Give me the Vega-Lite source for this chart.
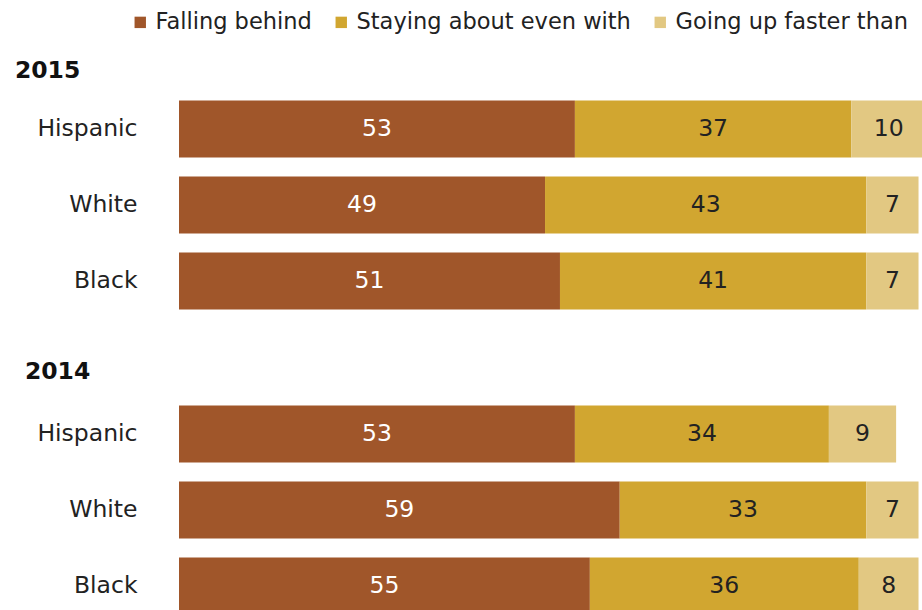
{
  "$schema": "https://vega.github.io/schema/vega-lite/v6.json",
  "background": "white",
  "padding": {"left": 14, "top": 11, "right": 0, "bottom": 0},
  "config": {
    "view": {"stroke": null},
    "font": "DejaVu Sans",
    "title": {"font": "DejaVu Sans", "fontWeight": "bold", "fontSize": 23.5, "color": "#111", "anchor": "start", "frame": "bounds"}
  },
  "data": {
    "values": [
      {"year": 2015, "race": "Hispanic", "response": "Falling behind", "order": 1, "value": 53},
      {"year": 2015, "race": "Hispanic", "response": "Staying about even with", "order": 2, "value": 37},
      {"year": 2015, "race": "Hispanic", "response": "Going up faster than", "order": 3, "value": 10},
      {"year": 2015, "race": "White", "response": "Falling behind", "order": 1, "value": 49},
      {"year": 2015, "race": "White", "response": "Staying about even with", "order": 2, "value": 43},
      {"year": 2015, "race": "White", "response": "Going up faster than", "order": 3, "value": 7},
      {"year": 2015, "race": "Black", "response": "Falling behind", "order": 1, "value": 51},
      {"year": 2015, "race": "Black", "response": "Staying about even with", "order": 2, "value": 41},
      {"year": 2015, "race": "Black", "response": "Going up faster than", "order": 3, "value": 7},
      {"year": 2014, "race": "Hispanic", "response": "Falling behind", "order": 1, "value": 53},
      {"year": 2014, "race": "Hispanic", "response": "Staying about even with", "order": 2, "value": 34},
      {"year": 2014, "race": "Hispanic", "response": "Going up faster than", "order": 3, "value": 9},
      {"year": 2014, "race": "White", "response": "Falling behind", "order": 1, "value": 59},
      {"year": 2014, "race": "White", "response": "Staying about even with", "order": 2, "value": 33},
      {"year": 2014, "race": "White", "response": "Going up faster than", "order": 3, "value": 7},
      {"year": 2014, "race": "Black", "response": "Falling behind", "order": 1, "value": 55},
      {"year": 2014, "race": "Black", "response": "Staying about even with", "order": 2, "value": 36},
      {"year": 2014, "race": "Black", "response": "Going up faster than", "order": 3, "value": 8}
    ]
  },
  "transform": [
    {"stack": "value", "groupby": ["year", "race"], "sort": [{"field": "order"}], "as": ["v0", "v1"]},
    {"calculate": "(datum.v0 + datum.v1) / 2", "as": "mid"}
  ],
  "spacing": 41,
  "vconcat": [
    {
      "title": {"text": "2015", "dx": -22, "offset": 9},
      "transform": [{"filter": "datum.year == 2015"}],
      "width": 747,
      "height": 228,
      "encoding": {
        "y": {
          "field": "race", "type": "nominal", "sort": ["Hispanic", "White", "Black"],
          "scale": {"paddingInner": 0.25, "paddingOuter": 0.125},
          "axis": {"title": null, "domain": false, "ticks": false, "labelPadding": 42, "labelFontSize": 23.5, "labelColor": "#222", "labelFont": "DejaVu Sans"}
        }
      },
      "layer": [
        {
          "mark": {"type": "bar"},
          "encoding": {
            "x": {"field": "v0", "type": "quantitative", "scale": {"domain": [0, 100]}, "axis": null},
            "x2": {"field": "v1"},
            "color": {
              "field": "response", "type": "nominal",
              "scale": {"domain": ["Falling behind", "Staying about even with", "Going up faster than"], "range": ["#A0562A", "#D1A630", "#E2C882"]},
              "legend": {
                "orient": "none", "legendX": -50, "legendY": -80, "direction": "horizontal", "title": null,
                "symbolType": "square", "symbolSize": 130, "symbolStrokeWidth": 0, "labelFontSize": 22.5, "labelColor": "#222",
                "labelFont": "DejaVu Sans", "columnPadding": 18, "labelOffset": 4, "labelLimit": 400
              }
            }
          }
        },
        {
          "mark": {"type": "text", "fontSize": 23.5, "font": "DejaVu Sans"},
          "encoding": {
            "x": {"field": "mid", "type": "quantitative"},
            "text": {"field": "value", "type": "quantitative"},
            "color": {"condition": {"test": "datum.order == 1", "value": "white"}, "value": "#222"}
          }
        }
      ]
    },
    {
      "title": {"text": "2014", "dx": -12, "offset": 12.5},
      "transform": [{"filter": "datum.year == 2014"}],
      "width": 747,
      "height": 228,
      "encoding": {
        "y": {
          "field": "race", "type": "nominal", "sort": ["Hispanic", "White", "Black"],
          "scale": {"paddingInner": 0.25, "paddingOuter": 0.125},
          "axis": {"title": null, "domain": false, "ticks": false, "labelPadding": 42, "labelFontSize": 23.5, "labelColor": "#222", "labelFont": "DejaVu Sans"}
        }
      },
      "layer": [
        {
          "mark": {"type": "bar"},
          "encoding": {
            "x": {"field": "v0", "type": "quantitative", "scale": {"domain": [0, 100]}, "axis": null},
            "x2": {"field": "v1"},
            "color": {"field": "response", "type": "nominal"}
          }
        },
        {
          "mark": {"type": "text", "fontSize": 23.5, "font": "DejaVu Sans"},
          "encoding": {
            "x": {"field": "mid", "type": "quantitative"},
            "text": {"field": "value", "type": "quantitative"},
            "color": {"condition": {"test": "datum.order == 1", "value": "white"}, "value": "#222"}
          }
        }
      ]
    }
  ]
}
